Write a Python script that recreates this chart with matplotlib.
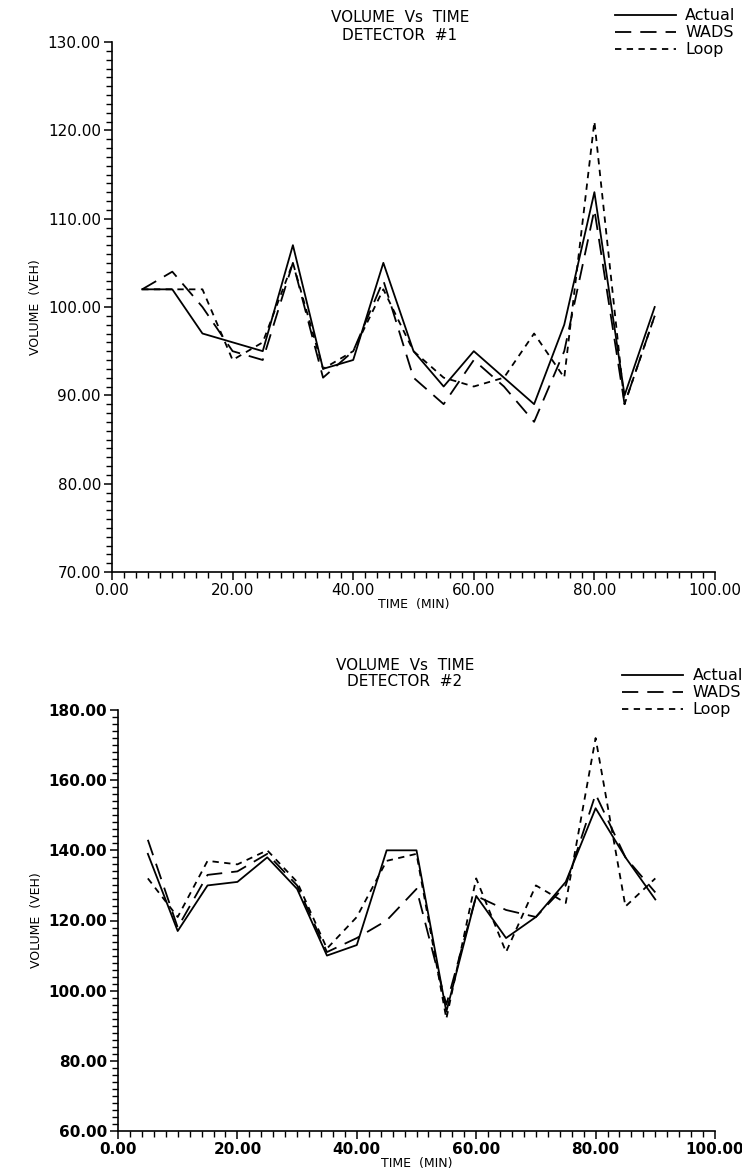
import numpy as np
import matplotlib
matplotlib.use("Agg")
import matplotlib.pyplot as plt
from matplotlib.ticker import MultipleLocator, FormatStrFormatter

# time axis (min)
time_min = [5, 10, 15, 20, 25, 30, 35, 40, 45, 50, 55, 60, 65, 70, 75, 80, 85, 90]

# detector 1
det1_actual = [102, 102, 97, 96, 95, 107, 93, 94, 105, 95, 91, 95, 92, 89, 98, 113, 90, 100]
det1_wads = [102, 104, 100, 95, 94, 105, 92, 95, 103, 92, 89, 94, 91, 87, 95, 111, 89, 99]
det1_loop = [102, 102, 102, 94, 96, 105, 93, 95, 102, 95, 92, 91, 92, 97, 92, 121, 89, 99]

# detector 2
det2_actual = [139, 117, 130, 131, 138, 129, 110, 113, 140, 140, 94, 127, 115, 121, 131, 152, 138, 126]
det2_wads = [143, 118, 133, 134, 139, 130, 111, 115, 120, 129, 96, 127, 123, 121, 130, 156, 138, 128]
det2_loop = [132, 121, 137, 136, 140, 131, 112, 121, 137, 139, 92, 132, 111, 130, 125, 172, 124, 132]

series_names = ["Actual", "WADS", "Loop"]

plt.rcParams['font.family'] = ['DejaVu Sans']

fig = plt.figure(figsize=(7.42, 11.76), dpi=100)

W, H = 742.0, 1176.0


def make_axes(left, right, top, bottom):
    return fig.add_axes([left / W, 1 - bottom / H, (right - left) / W, (bottom - top) / H])


def style_axes(ax, ylim, ymaj, ymin, weight):
    ax.set_xlim(0, 100)
    ax.set_ylim(*ylim)
    for s in ["top", "right"]:
        ax.spines[s].set_visible(False)
    ax.spines["left"].set_linewidth(1.2)
    ax.spines["bottom"].set_linewidth(1.2)
    ax.xaxis.set_major_locator(MultipleLocator(20))
    ax.xaxis.set_minor_locator(MultipleLocator(2))
    ax.yaxis.set_major_locator(MultipleLocator(ymaj))
    ax.yaxis.set_minor_locator(MultipleLocator(ymin))
    ax.xaxis.set_major_formatter(FormatStrFormatter("%.2f"))
    ax.yaxis.set_major_formatter(FormatStrFormatter("%.2f"))
    ax.tick_params(which="major", direction="out", length=6, width=1.1,
                   labelsize=11, pad=2)
    ax.tick_params(which="minor", direction="out", length=4, width=1.0)
    for lab in ax.get_xticklabels() + ax.get_yticklabels():
        lab.set_fontweight(weight)
    ax.set_xlabel("TIME  (MIN)", fontsize=9, labelpad=0)
    ax.set_ylabel("VOLUME  (VEH)", fontsize=9, labelpad=4)


def draw(ax, actual, wads, loop):
    l1, = ax.plot(time_min, actual, color="black", lw=1.3, ls="-")
    l2, = ax.plot(time_min, wads, color="black", lw=1.3, ls=(0, (9, 5)))
    l3, = ax.plot(time_min, loop, color="black", lw=1.3, ls=(0, (3.5, 3)))
    return [l1, l2, l3]


# top chart
ax1 = make_axes(112, 715, 42, 572)
lines1 = draw(ax1, det1_actual, det1_wads, det1_loop)
style_axes(ax1, (70, 130), 10, 1, "normal")
fig.text(400 / W, 1 - 18 / H, "VOLUME  Vs  TIME", ha="center", va="center", fontsize=11)
fig.text(400 / W, 1 - 35 / H, "DETECTOR  #1", ha="center", va="center", fontsize=11)
fig.legend(lines1, series_names, loc="upper right", bbox_to_anchor=(1.0, 1 - 2 / H),
           frameon=False, fontsize=11.5, handlelength=3.8, handletextpad=0.6,
           labelspacing=0.12, borderaxespad=0.0)

# bottom chart
ax2 = make_axes(118, 715, 710, 1131)
lines2 = draw(ax2, det2_actual, det2_wads, det2_loop)
style_axes(ax2, (60, 180), 20, 2, "bold")
fig.text(405 / W, 1 - 665 / H, "VOLUME  Vs  TIME", ha="center", va="center", fontsize=11)
fig.text(405 / W, 1 - 682 / H, "DETECTOR  #2", ha="center", va="center", fontsize=11)
fig.legend(lines2, series_names, loc="upper right", bbox_to_anchor=(1.01, 1 - 662 / H),
           frameon=False, fontsize=11.5, handlelength=3.8, handletextpad=0.6,
           labelspacing=0.12, borderaxespad=0.0)

fig.savefig("out.png", dpi=100)
